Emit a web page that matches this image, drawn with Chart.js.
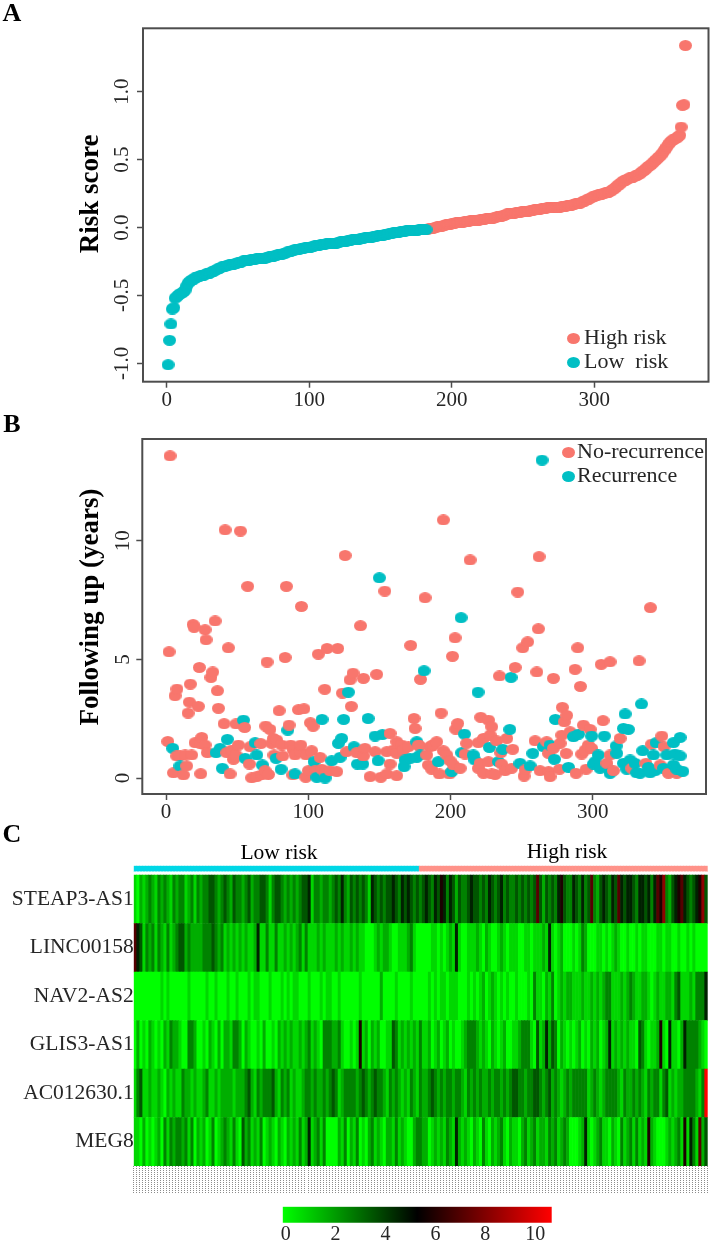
<!DOCTYPE html>
<html>
<head>
<meta charset="utf-8">
<title>Risk score, follow-up and heatmap</title>
<script src="https://cdn.jsdelivr.net/npm/chart.js@4"></script>
<style>
  html, body { margin: 0; padding: 0; background: #fff; }
  body { position: relative; width: 715px; height: 1251px; overflow: hidden; }
  canvas { position: absolute; left: 0; }
</style>
</head>
<body>
<canvas id="panelA" width="715" height="410" style="top:0"></canvas>
<canvas id="panelB" width="715" height="410" style="top:410px"></canvas>
<canvas id="panelC" width="715" height="380" style="top:820px"></canvas>
<canvas id="colorKey" width="715" height="51" style="top:1200px"></canvas>
<script>
// DATA

// A - risk score, one value per patient, in rank order
const riskLow = [
  -1.01,-0.83,-0.71,-0.6,-0.59,-0.52,-0.51,-0.5,-0.49,-0.485,
  -0.48,-0.47,-0.46,-0.43,-0.41,-0.4,-0.39,-0.385,-0.38,-0.37,
  -0.365,-0.36,-0.36,-0.355,-0.35,-0.35,-0.345,-0.34,-0.34,-0.335,
  -0.33,-0.325,-0.32,-0.315,-0.31,-0.305,-0.3,-0.295,-0.29,-0.285,
  -0.285,-0.28,-0.28,-0.275,-0.275,-0.27,-0.27,-0.265,-0.265,-0.26,
  -0.26,-0.255,-0.25,-0.245,-0.245,-0.24,-0.24,-0.24,-0.235,-0.235,
  -0.235,-0.235,-0.23,-0.23,-0.23,-0.23,-0.225,-0.225,-0.225,-0.22,
  -0.22,-0.215,-0.215,-0.21,-0.21,-0.205,-0.205,-0.2,-0.2,-0.195,
  -0.195,-0.19,-0.19,-0.185,-0.18,-0.18,-0.175,-0.17,-0.17,-0.165,
  -0.16,-0.16,-0.16,-0.155,-0.155,-0.155,-0.15,-0.15,-0.15,-0.145,
  -0.145,-0.14,-0.14,-0.135,-0.135,-0.13,-0.13,-0.125,-0.125,-0.125,
  -0.125,-0.12,-0.12,-0.12,-0.12,-0.12,-0.12,-0.115,-0.115,-0.11,
  -0.11,-0.105,-0.105,-0.1,-0.1,-0.1,-0.095,-0.095,-0.095,-0.09,
  -0.09,-0.09,-0.085,-0.085,-0.085,-0.08,-0.08,-0.08,-0.075,-0.075,
  -0.075,-0.07,-0.07,-0.07,-0.065,-0.065,-0.065,-0.06,-0.06,-0.06,
  -0.055,-0.055,-0.05,-0.05,-0.05,-0.045,-0.045,-0.045,-0.04,-0.04,
  -0.04,-0.035,-0.035,-0.03,-0.03,-0.03,-0.03,-0.025,-0.025,-0.025,
  -0.025,-0.02,-0.02,-0.02,-0.02,-0.02,-0.015,-0.015,-0.015,-0.015,-0.015,-0.015
];
const riskHigh = [
  -0.015,-0.01,-0.01,-0.005,-0.005,0,0,0.005,
  0.005,0.01,0.01,0.015,0.015,0.02,0.02,0.025,0.025,0.03,
  0.03,0.03,0.035,0.035,0.035,0.04,0.04,0.04,0.045,0.045,
  0.045,0.045,0.05,0.05,0.05,0.05,0.055,0.055,0.055,0.06,
  0.06,0.06,0.06,0.065,0.065,0.065,0.07,0.07,0.07,0.075,
  0.075,0.08,0.08,0.085,0.085,0.09,0.09,0.095,0.1,0.1,
  0.1,0.105,0.105,0.105,0.11,0.11,0.11,0.11,0.115,0.115,
  0.115,0.12,0.12,0.12,0.125,0.125,0.125,0.13,0.13,0.135,
  0.135,0.135,0.14,0.14,0.14,0.14,0.145,0.145,0.145,0.145,
  0.145,0.145,0.15,0.15,0.15,0.15,0.155,0.155,0.155,0.155,
  0.16,0.16,0.165,0.165,0.17,0.17,0.175,0.175,0.18,0.18,
  0.185,0.19,0.195,0.2,0.205,0.21,0.215,0.22,0.225,0.23,
  0.235,0.235,0.24,0.24,0.245,0.25,0.25,0.255,0.255,0.26,
  0.265,0.27,0.28,0.285,0.295,0.305,0.315,0.32,0.33,0.34,
  0.345,0.35,0.355,0.36,0.365,0.365,0.37,0.375,0.38,0.385,
  0.39,0.395,0.405,0.415,0.42,0.43,0.44,0.45,0.455,0.465,
  0.475,0.485,0.495,0.505,0.515,0.525,0.535,0.55,0.565,0.58,
  0.595,0.61,0.625,0.635,0.645,0.65,0.655,0.66,0.67,0.68,
  0.74,0.9,0.905,1.34
];

// B - patient rank and years of follow up
const noRecurrenceRank = [
  2.8,41.5,52.3,125.9,57.4,84.6,153.8,182.1,95.2,136.7,34.5,19,19.7,27.4,28.1,43.8,2.1,107.1,113.2,120.7,
  172,71,83.7,23.4,32.8,31.6,131.5,129.4,138.8,148.1,178.9,17.1,7.7,6.3,36.1,111.6,124,16.4,22.7,36.8,
  15.5,79.5,93.1,97,130.3,174.4,175.1,40.8,49.2,55.3,70.1,73.1,86.5,101.5,103.4,157.5,
  1.2,20.4,25.1,23.9,27.4,29.1,9.8,13.4,18,7.5,42.7,46.2,50.9,49.2,47.4,59.1,66.6,75.5,77.8,74.3,
  81.3,75.9,82,87.7,89.5,94.7,90.7,94.2,98.5,102.4,108.3,127,134.1,139.9,138.8,147,155.2,159.9,162.2,165.7,
  166.9,170.4,162.2,157.5,178.2,183.3,184.5,186.8,
  5.2,12.2,14.5,24.4,45,58.6,60.2,63.8,67.3,69.6,72,89.1,98.2,100.1,104.8,109.5,111.8,115.3,120,143.5,151,155.2,162.2,
  195,213.8,262.3,247.3,340.6,261.8,203.2,254.3,250.8,289.5,201.4,332.6,306,312.2,245.5,287.6,260.7,234.4,272.4,
  291.4,278.7,193.4,281.7,221.3,226.7,280.1,205.1,307.3,203.7,229,293.5,298.2,284.1,348.6,319.3,227.9,223.2,219.6,211.4,
  239.6,232.5,259.5,267.7,278.3,277.1,297,294.7,299.3,292.3,341.5,350.2,188,190.3,185.7,177.5,195,197.4,199.7,243.8,
  235.4,210.3,272.4,269,281.3,312.2,186.8,202.1,206.8,220.8,226.7,219.6,223.2,229,231.4,236,238.4,243,252.5,251.8,
  263,270,269,276.6,288.3,295.4,310,314.6,327.5,337.5,347.4,353.3,359.1,192.2,199.2
];
const noRecurrenceYears = [
  13.58,10.46,10.41,9.38,8.08,8.08,7.88,7.6,7.23,6.42,6.62,6.47,6.35,6.25,5.83,5.49,5.32,5.22,5.46,5.46,
  5.59,4.89,5.08,4.66,4.47,4.24,4.42,4.14,4.2,4.37,4.16,3.96,3.75,3.47,3.68,3.74,3.58,3.2,3.02,2.94,
  2.74,2.84,2.88,2.92,3.02,2.51,2.09,2.29,2.28,2.13,2.19,2.05,2.23,2.33,2.18,1.88,
  1.54,1.49,1.71,1.46,1.39,1.07,0.93,0.97,0.97,0.93,1.07,1.18,1.39,0.97,0.79,1.32,1.45,1.67,1.6,1.46,
  1.39,0.97,0.93,1.39,1.18,1.39,0.97,1.11,0.97,1.15,0.87,1.11,1.07,1.25,0.93,1.11,1.11,1.18,1.53,1.39,
  1.18,1.32,1.04,0.59,1.35,0.97,0.55,1.35,
  0.22,0.13,0.51,0.18,0.17,0.59,0.01,0.06,0.13,0.31,0.15,0.13,0.03,0.31,0.31,0.37,0.2,0.31,0.27,0.06,0.03,0.17,0.1,
  10.88,9.19,9.33,7.84,7.18,6.29,5.91,5.74,5.49,5.49,5.13,4.94,4.79,4.9,4.66,4.58,4.47,4.3,4.2,
  3.86,2.98,2.74,2.64,2.56,2.44,2.37,2.3,2.42,2.06,2.16,2.23,2.05,1.95,1.77,1.67,1.81,1.67,1.49,1.46,
  1.67,1.57,1.57,1.53,1.81,1.46,1.39,1.18,1.25,1.01,1.43,1.32,1.39,1.53,1.32,1.39,1.15,0.97,0.73,1.21,
  1.07,1.01,1.25,1.04,1.04,0.97,0.37,0.55,0.41,0.62,0.69,0.41,0.2,0.17,0.15,0.59,0.31,0.41,0.34,0.08,
  0.31,0.06,0.27,0.37,0.2,0.37,0.62,0.31,0.41,0.62,0.55,0.2,0.2,0.17,0.17
];
const recurrenceRank = [
  54.4,150,181.4,128.2,109.7,124.9,142.1,85.6,43.1,4.7,38,35.2,62.6,63.8,55.6,67.7,77.4,80.9,39.6,9.8,
  90.7,104.1,106,111.8,116.5,122.4,121.2,123.5,132.2,134.6,138.3,149.1,147,152.1,167.4,168.1,171.6,176.3,176.3,
  264.4,207.5,242.6,219.4,334.3,322.8,273.8,321.6,325.1,241.7,209.8,299.3,308.2,361.5,286.5,290,356.8,344.6,316.5,265.4,
  270,227.4,236.8,207.9,257.9,335.2,304,316.9,342.7,352.1,357.9,361.5,216.1,217.2,273.1,191.5,178.6,233.7,248.9,256,
  283,301.7,305.2,309.9,321.6,326.3,329.8,324,330.9,333.3,339.2,343.9,340.4,349.7,356.8,359.1,363.4,200.9,312.2,300.5
];
const recurrenceYears = [
  2.44,8.44,4.52,3.62,2.47,2.47,2.51,2.02,1.63,1.25,1.25,1.07,1.49,0.97,0.83,0.55,0.83,0.37,0.41,0.51,
  0.17,0.69,0.03,0,0.73,0.87,1.46,1.67,1.32,0.59,0.59,0.73,1.77,1.83,0.48,0.76,0.83,0.87,1.53,
  13.4,6.76,4.24,3.62,3.12,2.7,2.47,2.09,2.05,2.05,1.85,1.77,1.77,1.71,1.74,1.85,1.49,1.49,1.35,1.32,
  1.39,1.29,1.21,1.07,1.04,1.15,0.97,1.04,0.97,0.97,1.01,0.93,0.97,0.76,0.79,0.69,0.97,0.69,0.62,0.51,
  0.45,0.69,0.41,0.45,0.62,0.76,0.62,0.37,0.22,0.2,0.45,0.31,0.22,0.41,0.55,0.37,0.28,0.27,0.2,0.59
];

// C - expression, each column a narrow band of patients
const steap3 = [
  1,0,2,1,2,3,2,1,3,2,3,2,1,3,2,3,3,1,2,3,1,3,2,3,3,4,4,3,2,3,4,3,2,4,3,3,2,3,4,2,3,3,4,4,3,1,3,4,4,
  3,2,3,2,3,2,3,4,4,5,1,3,3,2,3,3,2,3,4,3,5,3,2,4,3,4,3,4,3,1,5,4,3,4,3,4,4,5,4,3,5,4,5,4,3,4,3,4,
  5,4,3,5,4,6,5,3,5,4,2,4,3,3,4,5,4,4,3,4,3,5,4,3,4,5,3,4,3,3,4,3,4,3,4,3,4,7,4,2,4,3,4,3,5,6,4,3,
  3,5,4,3,5,3,4,7,3,2,4,5,4,3,5,4,7,5,4,5,5,4,3,5,5,4,5,3,5,7,6,8,3,2,4,5,6,7,5,4,3,4,5,6,8,4
];
const linc00158 = [
  7,5,4,1,3,2,3,1,3,2,1,3,1,2,3,4,4,2,3,2,2,2,2,3,3,3,4,3,2,3,1,2,1,2,1,2,1,2,1,1,2,5,1,1,3,1,1,3,1,
  1,2,1,2,1,2,3,1,3,1,1,1,2,1,2,1,1,1,2,1,2,1,1,2,1,2,1,1,0,0,0,1,2,1,2,2,1,0,0,1,1,1,2,3,1,0,0,0,
  0,0,1,1,0,1,0,1,2,1,5,1,0,0,1,1,1,2,1,0,2,1,0,0,1,2,1,0,1,1,1,0,0,1,1,0,1,1,1,2,1,5,1,0,1,2,0,0,
  0,1,0,1,3,2,0,0,0,1,1,0,1,0,1,2,1,0,0,1,0,0,1,0,1,1,0,0,0,1,1,0,1,1,0,0,1,0,0,1,0,1,0,0,0,0
];
const nav2 = [
  0,0,0,0,0,0,0,0,0,1,0,1,0,0,0,0,0,0,1,0,0,0,0,0,1,0,0,1,0,0,0,1,0,0,1,0,0,0,1,0,1,1,0,0,0,1,0,0,0,
  1,0,1,0,1,1,0,0,0,1,0,0,0,1,0,1,1,0,0,1,0,0,0,0,0,0,1,0,0,0,0,0,0,2,0,0,0,0,1,0,0,0,0,1,0,0,0,0,
  0,1,0,1,0,1,1,0,1,1,1,0,0,0,1,0,1,0,1,2,0,1,2,1,0,1,0,1,0,0,1,0,0,0,1,0,3,1,1,0,2,1,3,0,1,2,1,2,
  2,1,1,1,2,1,1,2,1,2,1,2,3,3,1,1,1,2,1,2,3,2,1,1,2,2,1,0,1,2,1,1,2,2,1,3,4,1,1,1,2,1,3,3,3,5
];
const glis3 = [
  0,2,0,1,0,2,1,0,1,0,2,1,3,2,2,1,0,0,3,3,2,0,0,1,0,2,1,0,2,0,2,2,1,3,3,2,0,2,1,0,0,1,0,2,0,0,1,0,2,
  1,2,1,2,1,1,2,1,2,3,1,2,1,0,3,3,3,2,2,3,1,0,0,1,0,1,6,1,2,0,2,1,2,0,0,1,1,4,3,1,2,1,2,1,2,1,3,1,
  1,2,0,1,2,0,1,2,0,1,0,0,1,2,3,3,3,2,1,2,1,0,2,1,0,1,2,0,0,1,1,2,3,3,3,1,0,4,1,2,5,2,4,3,0,2,1,0,
  1,0,1,2,0,1,0,2,1,2,0,1,2,5,1,2,1,2,1,2,1,1,0,4,3,1,0,1,1,2,6,1,0,5,1,1,0,2,5,3,3,3,3,2,1,0
];
const ac012630 = [
  1,3,4,1,1,2,1,1,2,1,0,2,1,2,1,1,3,2,2,1,2,1,1,2,3,1,1,2,1,2,2,2,2,1,2,2,2,3,4,2,1,3,2,3,3,3,4,2,1,
  3,2,3,1,2,1,1,2,3,3,2,3,2,2,3,2,3,4,3,1,2,3,3,3,3,2,3,4,3,2,3,4,3,3,2,1,3,2,3,2,1,2,1,3,2,1,3,2,
  2,3,4,3,2,3,2,3,3,2,3,3,2,1,3,2,3,2,3,2,2,3,2,3,3,2,3,2,3,4,4,3,3,2,3,3,4,4,3,2,3,4,2,3,2,1,2,3,
  2,3,3,3,3,3,1,2,3,2,1,2,3,3,3,3,2,1,3,2,2,3,2,3,2,1,3,2,3,3,1,3,4,1,2,1,2,2,3,3,3,3,2,1,3,10
];
const meg8 = [
  1,1,0,2,0,1,0,1,2,0,3,1,3,2,3,3,2,3,1,3,0,2,1,2,0,1,3,0,1,2,3,2,1,3,1,0,4,2,3,1,2,1,3,0,1,2,1,0,2,
  1,0,2,1,2,1,3,1,2,5,1,2,3,1,3,0,0,0,0,2,1,3,0,2,1,3,0,1,0,2,3,1,2,1,0,2,2,1,3,1,2,1,0,0,2,3,3,2,
  2,0,1,2,1,2,1,3,2,1,5,2,1,2,1,0,2,1,0,3,1,0,2,1,2,3,1,0,2,1,1,0,2,3,1,2,3,1,2,2,1,3,2,3,1,2,3,2,
  0,0,0,1,2,5,1,0,1,2,3,1,1,0,2,1,0,3,1,2,3,1,3,1,2,1,6,2,1,0,0,0,1,2,1,2,3,1,6,1,5,3,1,7,2,4
];
const heatGenes = ['STEAP3-AS1', 'LINC00158', 'NAV2-AS2', 'GLIS3-AS1', 'AC012630.1', 'MEG8'];
const heatRows = [steap3, linc00158, nav2, glis3, ac012630, meg8];
const lowRiskColumns = 95;

// tick labels
const riskTicks = [-1, -0.5, 0, 0.5, 1];
const rankTicks = [0, 100, 200, 300];
const yearTicks = [0, 5, 10];
const keyTicks = [0, 2, 4, 6, 8, 10];

// COLORS
const PINK = '#f8766d';
const TEAL = '#00bfc4';
const BOX = '#4d4d4d';
const INK = '#262626';
const SERIF = '"Liberation Serif", serif';

function makeDot(color, w, h){
  const dot = document.createElement('canvas');
  dot.width = w;
  dot.height = h;
  const c = dot.getContext('2d');
  c.fillStyle = color;
  c.beginPath();
  c.ellipse(w / 2, h / 2, w / 2, h / 2, 0, 0, Math.PI * 2);
  c.fill();
  return dot;
}
const pinkDot = makeDot(PINK, 13, 11);
const tealDot = makeDot(TEAL, 13, 11);

// green - black - red, like the colour key
function heatColor(v){
  if (v <= 5.5) return 'rgb(0,' + Math.round(255 * Math.pow(1 - v / 5.5, 0.85)) + ',0)';
  return 'rgb(' + Math.round(255 * (v - 5.5) / 4.5) + ',0,0)';
}

// frame, legend and free text of each panel
const panelDecor = {
  id: 'panelDecor',
  afterDraw(chart, args, opts){
    const c = chart.ctx;
    const a = chart.chartArea;
    c.save();
    if (opts.box) {
      c.strokeStyle = BOX;
      c.lineWidth = 2;
      c.strokeRect(a.left, a.top, a.right - a.left, a.bottom - a.top);
    }
    (opts.legend || []).forEach(function(item){
      c.drawImage(item.dot, item.x - 6, item.y - 5);
      c.fillStyle = INK;
      c.font = '22px ' + SERIF;
      c.textAlign = 'left';
      c.textBaseline = 'middle';
      c.fillText(item.text, item.textX, item.y);
    });
    (opts.texts || []).forEach(function(t){
      c.save();
      c.translate(t.x, t.y);
      if (t.rotate) c.rotate(t.rotate);
      c.fillStyle = '#000';
      c.font = t.font;
      c.textAlign = 'center';
      c.textBaseline = 'middle';
      c.fillText(t.text, 0, 0);
      c.restore();
    });
    c.restore();
  }
};

function rankAxis(min, max, height){
  return {
    type: 'linear',
    min: min,
    max: max,
    afterBuildTicks: function(s){ s.ticks = rankTicks.map(v => ({ value: v })); },
    afterFit: function(s){ s.height = height; },
    grid: { drawOnChartArea: false, color: BOX, tickColor: BOX, tickLength: 6, tickWidth: 1.5 },
    border: { display: false },
    ticks: { color: INK, font: { family: SERIF, size: 21 }, padding: 0, maxRotation: 0, callback: v => v }
  };
}

function valueAxis(min, max, values, width, pad, format){
  return {
    type: 'linear',
    min: min,
    max: max,
    afterBuildTicks: function(s){ s.ticks = values.map(v => ({ value: v })); },
    afterFit: function(s){ s.width = width; },
    grid: { drawOnChartArea: false, color: BOX, tickColor: BOX, tickLength: 6, tickWidth: 1.5 },
    border: { display: false },
    ticks: {
      color: INK, font: { family: SERIF, size: 21 }, padding: pad,
      minRotation: 90, maxRotation: 90, crossAlign: 'center',
      callback: format
    }
  };
}

// A
const chartA = new Chart(document.getElementById('panelA'), {
  type: 'scatter',
  data: {
    datasets: [{
      label: 'Low risk',
      data: riskLow.map((y, i) => ({ x: i + 1, y: y })),
      pointStyle: tealDot
    },{
      label: 'High risk',
      data: riskHigh.map((y, i) => ({ x: riskLow.length + i + 1, y: y })),
      pointStyle: pinkDot
    }]
  },
  options: {
    responsive: false,
    animation: false,
    events: [],
    layout: { autoPadding: false, padding: { top: 28.3, right: 6.5 } },
    scales: {
      x: rankAxis(-16.6, 380.2, 28.3),
      y: valueAxis(-1.135, 1.467, riskTicks, 143, -2.5, v => v.toFixed(1))
    },
    plugins: {
      legend: { display: false },
      tooltip: { enabled: false },
      panelDecor: {
        box: true,
        legend: [
          { dot: pinkDot, text: 'High risk', x: 573, textX: 584, y: 338 },
          { dot: tealDot, text: 'Low  risk', x: 573, textX: 584, y: 362 }
        ],
        texts: [
          { text: 'A', x: 12, y: 14, font: 'bold 26px ' + SERIF },
          { text: 'Risk score', x: 91, y: 194, rotate: -Math.PI / 2, font: 'bold 27px ' + SERIF }
        ]
      }
    }
  },
  plugins: [panelDecor]
});

// B - merged by rank so that later patients are drawn over earlier ones
const followPoints = noRecurrenceRank.map((x, i) => ({ x: x, y: noRecurrenceYears[i], dot: pinkDot }))
  .concat(recurrenceRank.map((x, i) => ({ x: x, y: recurrenceYears[i], dot: tealDot })))
  .sort((p, q) => p.x - q.x);

const chartB = new Chart(document.getElementById('panelB'), {
  type: 'scatter',
  data: {
    datasets: [{
      label: 'Following up (years)',
      data: followPoints,
      pointStyle: ctx => ctx.raw ? ctx.raw.dot : pinkDot
    }]
  },
  options: {
    responsive: false,
    animation: false,
    events: [],
    layout: { autoPadding: false, padding: { top: 29, right: 9 } },
    scales: {
      x: rankAxis(-16.7, 379.7, 26),
      y: valueAxis(-0.674, 14.29, yearTicks, 142.3, 2.5, v => String(v))
    },
    plugins: {
      legend: { display: false },
      tooltip: { enabled: false },
      panelDecor: {
        box: true,
        legend: [
          { dot: pinkDot, text: 'No-recurrence', x: 568, textX: 577, y: 42 },
          { dot: tealDot, text: 'Recurrence', x: 568, textX: 577, y: 66 }
        ],
        texts: [
          { text: 'B', x: 12, y: 15, font: 'bold 26px ' + SERIF },
          { text: 'Following up (years)', x: 91, y: 197, rotate: -Math.PI / 2, font: 'bold 27px ' + SERIF }
        ]
      }
    }
  },
  plugins: [panelDecor]
});

// C - stacked bars, one stack per column, one segment per gene
const heatColumns = steap3.map((v, i) => i + 1);
const heatDatasets = heatRows.slice().reverse().map(function(row, i){
  return {
    label: heatGenes[heatGenes.length - 1 - i],
    data: row.map(() => 1),
    backgroundColor: row.map(heatColor)
  };
});
heatDatasets.push({
  label: 'gap',
  data: heatColumns.map(() => 0.068),
  backgroundColor: '#ffffff'
});
heatDatasets.push({
  label: 'Risk group',
  data: heatColumns.map(() => 0.124),
  backgroundColor: heatColumns.map(c => c <= lowRiskColumns ? '#00d7e6' : '#ff9289')
});

const chartC = new Chart(document.getElementById('panelC'), {
  type: 'bar',
  data: {
    labels: heatColumns,
    datasets: heatDatasets.map(d => Object.assign(d, { barPercentage: 1, categoryPercentage: 1, borderWidth: 0 }))
  },
  options: {
    responsive: false,
    animation: false,
    events: [],
    layout: { autoPadding: false, padding: { top: 45.7, right: 7.3 } },
    scales: {
      x: {
        stacked: true,
        afterFit: function(s){ s.height = 34; },
        grid: { drawOnChartArea: false, tickLength: 27, tickColor: '#8c8c8c', tickWidth: 1, tickBorderDash: [1, 1] },
        border: { display: false },
        ticks: { display: false }
      },
      y: {
        stacked: true,
        min: 0,
        max: 6.192,
        afterBuildTicks: function(s){ s.ticks = heatGenes.map((g, i) => ({ value: i + 0.5 })); },
        afterFit: function(s){ s.width = 133.7; },
        grid: { display: false, drawTicks: false },
        border: { display: false },
        ticks: {
          color: INK,
          font: { family: SERIF, size: 21.5 },
          padding: 0,
          callback: v => heatGenes[heatGenes.length - 1 - Math.floor(v)]
        }
      }
    },
    plugins: {
      legend: { display: false },
      tooltip: { enabled: false },
      panelDecor: {
        texts: [
          { text: 'C', x: 12, y: 15, font: 'bold 26px ' + SERIF },
          { text: 'Low risk', x: 279, y: 33, font: '21.5px ' + SERIF },
          { text: 'High risk', x: 567, y: 32, font: '21.5px ' + SERIF }
        ]
      }
    }
  },
  plugins: [panelDecor]
});

// COLOR KEY
const chartKey = new Chart(document.getElementById('colorKey'), {
  type: 'bar',
  data: {
    labels: ['Expression'],
    datasets: [{
      data: [[0, 10.78]],
      barPercentage: 1,
      categoryPercentage: 1,
      borderWidth: 0,
      backgroundColor: function(ctx){
        const area = ctx.chart.chartArea;
        if (!area) return '#000';
        const g = ctx.chart.ctx.createLinearGradient(area.left, 0, area.right, 0);
        g.addColorStop(0, '#00ff00');
        g.addColorStop(0.5, '#000000');
        g.addColorStop(1, '#ff0000');
        return g;
      }
    }]
  },
  options: {
    indexAxis: 'y',
    responsive: false,
    animation: false,
    events: [],
    layout: { autoPadding: false, padding: { top: 6.7, left: 282.7, right: 163.3 } },
    scales: {
      x: {
        type: 'linear',
        min: 0,
        max: 10.78,
        afterBuildTicks: function(s){ s.ticks = keyTicks.map(v => ({ value: v })); },
        afterFit: function(s){ s.height = 28.3; },
        grid: { display: false, drawTicks: false },
        border: { display: false },
        ticks: { color: INK, font: { family: SERIF, size: 20 }, padding: 0, maxRotation: 0, labelOffset: 3, callback: v => v }
      },
      y: { display: false }
    },
    plugins: { legend: { display: false }, tooltip: { enabled: false } }
  }
});
</script>
</body>
</html>
